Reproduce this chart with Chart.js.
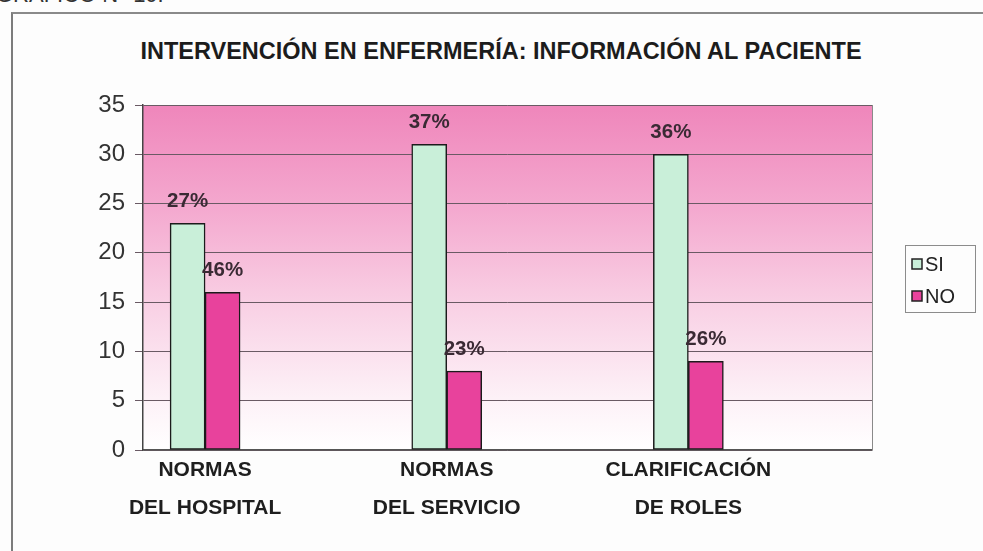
<!DOCTYPE html>
<html>
<head>
<meta charset="utf-8">
<script src="https://cdn.jsdelivr.net/npm/chart.js@4.4.1/dist/chart.umd.min.js"></script>
<style>
  html, body { margin: 0; padding: 0; background: #fdfdfd; overflow: hidden; }
  #wrap { position: relative; width: 983px; height: 551px; }
  #frame { position: absolute; left: 11px; top: 12px; width: 990px; height: 560px;
           border-left: 2px solid #7c7c7c; border-top: 2px solid #8a8a8a; }
  #fig { position: absolute; left: -4px; top: -16px; font: 22px "Liberation Sans", Arial, sans-serif; color: #333; line-height: 22px; }
  #title { position: absolute; left: 0; width: 1002px; top: 38px; text-align: center;
           font: bold 23.5px "Liberation Sans", Arial, sans-serif; color: #1c1c1c; line-height: 26px; }
  canvas { position: absolute; left: 0; top: 0; }
</style>
</head>
<body>
<div id="wrap">
  <div id="fig">GRÁFICO N° 10:</div>
  <div id="frame"></div>
  <div id="title">INTERVENCIÓN EN ENFERMERÍA: INFORMACIÓN AL PACIENTE</div>
  <canvas id="chart" width="983" height="551"></canvas>
</div>
<script>
const categories = [['NORMAS', 'DEL HOSPITAL'], ['NORMAS', 'DEL SERVICIO'], ['CLARIFICACIÓN', 'DE ROLES']];
const seriesNames = ['SI', 'NO'];
const siValues = [23, 31, 30];
const noValues = [16, 8, 9];
const siPercent = ['27%', '37%', '36%'];
const noPercent = ['46%', '23%', '26%'];

const FONT = '"Liberation Sans", Arial, sans-serif';

// pink wash behind the bars, plus the thin frame on the right
const plotBackground = {
  id: 'plotBackground',
  beforeDraw(chart) {
    const { ctx, chartArea: a } = chart;
    const g = ctx.createLinearGradient(0, a.top, 0, a.bottom);
    g.addColorStop(0, '#ef86bb');
    g.addColorStop(0.3, '#f4a9cf');
    g.addColorStop(0.6, '#f9d3e6');
    g.addColorStop(0.85, '#fdf1f7');
    g.addColorStop(1, '#ffffff');
    ctx.save();
    ctx.fillStyle = g;
    ctx.fillRect(a.left, a.top, a.right - a.left, a.bottom - a.top);
    ctx.restore();
  },
  afterDraw(chart) {
    const { ctx, chartArea: a } = chart;
    ctx.save();
    ctx.strokeStyle = '#8a8a8a';
    ctx.lineWidth = 1;
    ctx.beginPath();
    ctx.moveTo(a.right + 0.5, a.top);
    ctx.lineTo(a.right + 0.5, a.bottom);
    ctx.stroke();
    ctx.restore();
  }
};

// percentage text above each bar
const barLabels = {
  id: 'barLabels',
  afterDatasetsDraw(chart) {
    const { ctx } = chart;
    const texts = [siPercent, noPercent];
    ctx.save();
    ctx.font = 'bold 20.5px ' + FONT;
    ctx.fillStyle = '#3a2a34';
    ctx.textAlign = 'center';
    ctx.textBaseline = 'middle';
    chart.data.datasets.forEach((ds, i) => {
      chart.getDatasetMeta(i).data.forEach((bar, j) => {
        ctx.fillText(texts[i][j], bar.x, bar.y - 22);
      });
    });
    ctx.restore();
  }
};

// boxed legend to the right of the plot
const boxLegend = {
  id: 'boxLegend',
  afterDraw(chart) {
    const { ctx, chartArea: a } = chart;
    const boxX = a.right + 33;
    const boxW = 70;
    const boxH = 67;
    const boxY = (a.top + a.bottom) / 2 - boxH / 2 + 1;
    ctx.save();
    ctx.strokeStyle = '#8c8c8c';
    ctx.lineWidth = 1;
    ctx.strokeRect(boxX + 0.5, boxY + 0.5, boxW, boxH);
    ctx.font = '20px ' + FONT;
    ctx.textBaseline = 'middle';
    chart.data.datasets.forEach((ds, i) => {
      const cy = boxY + 19 + i * 32;
      ctx.fillStyle = ds.backgroundColor;
      ctx.fillRect(boxX + 7, cy - 5, 10, 10);
      ctx.strokeStyle = '#222';
      ctx.lineWidth = 1.5;
      ctx.strokeRect(boxX + 7, cy - 5, 10, 10);
      ctx.fillStyle = '#222';
      ctx.fillText(ds.label, boxX + 20, cy + 1);
    });
    ctx.restore();
  }
};

new Chart(document.getElementById('chart'), {
  type: 'bar',
  data: {
    labels: categories.map((c, i) => i),
    datasets: [
      {
        label: seriesNames[0],
        data: siValues,
        backgroundColor: '#c9efd9',
        borderColor: '#1b1b1b',
        borderWidth: 1.5,
        borderSkipped: false,
        barThickness: 35
      },
      {
        label: seriesNames[1],
        data: noValues,
        backgroundColor: '#e8429c',
        borderColor: '#1b1b1b',
        borderWidth: 1.5,
        borderSkipped: false,
        barThickness: 35
      }
    ]
  },
  options: {
    responsive: false,
    animation: false,
    layout: { padding: { top: 105, left: 20, right: 111, bottom: 0 } },
    plugins: {
      legend: { display: false },
      title: { display: false },
      tooltip: { enabled: false }
    },
    scales: {
      x: {
        type: 'linear',
        offset: false,
        min: -0.257,
        max: 2.76,
        afterBuildTicks(scale) {
          scale.ticks = categories.map((c, i) => ({ value: i }));
        },
        afterFit(scale) { scale.height = 101; },
        grid: { display: false, drawTicks: false },
        border: { display: true, color: '#555', width: 1.5 },
        ticks: {
          padding: 1,
          color: '#1e1e1e',
          font: { family: FONT, size: 21, weight: 'bold', lineHeight: 1.81 },
          maxRotation: 0,
          autoSkip: false,
          callback: (v) => categories[v]
        }
      },
      y: {
        min: 0,
        max: 35,
        afterFit(scale) { scale.width = 123; },
        ticks: {
          stepSize: 5,
          padding: 10,
          color: '#333',
          font: { family: FONT, size: 24 }
        },
        grid: { color: '#6a5a64', lineWidth: 1, tickLength: 8 },
        border: { display: true, color: '#444', width: 1.5 }
      }
    }
  },
  plugins: [plotBackground, barLabels, boxLegend]
});
</script>
</body>
</html>
